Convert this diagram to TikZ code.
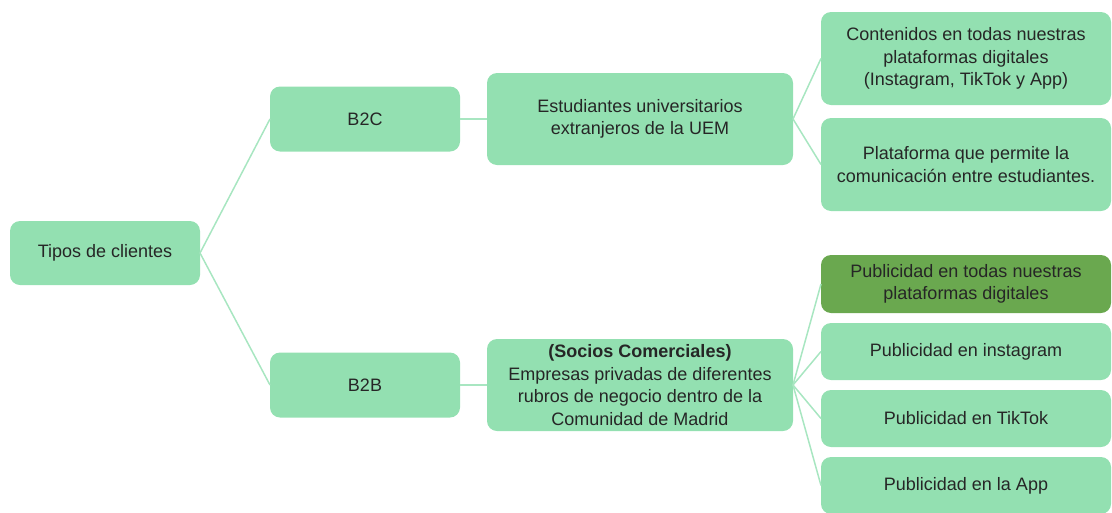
\documentclass[tikz,border=0pt]{standalone}
\usepackage{fontspec}
\setmainfont{Liberation Sans}
\usetikzlibrary{positioning}

\definecolor{boxgreen}{HTML}{93E0B1}
\definecolor{darkgreen}{HTML}{6AA84F}
\definecolor{linkgreen}{HTML}{A8E6C1}

\begin{document}
\begin{tikzpicture}[font=\fontsize{18}{22.5}\selectfont, align=center,
  box/.style={fill=boxgreen, rounded corners=10pt, inner sep=0pt, outer sep=0pt, text=black!85},
  link/.style={draw=linkgreen, line width=1.5pt}]
  \useasboundingbox (0,0) rectangle (1112pt,-512pt);

  \node[box, minimum width=190pt, minimum height=64pt] (tipos) at (105pt,-253pt) {Tipos de clientes};

  \node[box, minimum width=190pt, minimum height=65pt, right=70pt of tipos, yshift=134pt] (b2c) {B2C};
  \node[box, minimum width=190pt, minimum height=65pt, right=70pt of tipos, yshift=-132pt] (b2b) {B2B};

  \node[box, minimum width=306pt, minimum height=92pt, right=27pt of b2c] (estud) {Estudiantes universitarios\\extranjeros de la UEM};
  \node[box, minimum width=306pt, minimum height=92pt, right=27pt of b2b] (socios) {\textbf{(Socios Comerciales)}\\Empresas privadas de diferentes\\rubros de negocio dentro de la\\Comunidad de Madrid};

  \node[box, minimum width=290pt, minimum height=93pt, right=28pt of estud, yshift=60.5pt] (conten) {Contenidos en todas nuestras\\plataformas digitales\\(Instagram, TikTok y App)};
  \node[box, minimum width=290pt, minimum height=93pt, below=13pt of conten] (plataf) {Plataforma que permite la\\comunicación entre estudiantes.};

  \node[box, fill=darkgreen, minimum width=290pt, minimum height=58pt, right=28pt of socios, yshift=101pt] (pubtodas) {Publicidad en todas nuestras\\plataformas digitales};
  \node[box, minimum width=290pt, minimum height=57pt, below=10pt of pubtodas] (pubinsta) {Publicidad en instagram};
  \node[box, minimum width=290pt, minimum height=57pt, below=10pt of pubinsta] (pubtiktok) {Publicidad en TikTok};
  \node[box, minimum width=290pt, minimum height=57pt, below=10pt of pubtiktok] (pubapp) {Publicidad en la App};

  \draw[link] (tipos.east) -- (b2c.west);
  \draw[link] (tipos.east) -- (b2b.west);
  \draw[link] (b2c.east) -- (estud.west);
  \draw[link] (b2b.east) -- (socios.west);
  \draw[link] (estud.east) -- (conten.west);
  \draw[link] (estud.east) -- (plataf.west);
  \foreach \n in {pubtodas, pubinsta, pubtiktok, pubapp}
    \draw[link] (socios.east) -- (\n.west);
\end{tikzpicture}
\end{document}
